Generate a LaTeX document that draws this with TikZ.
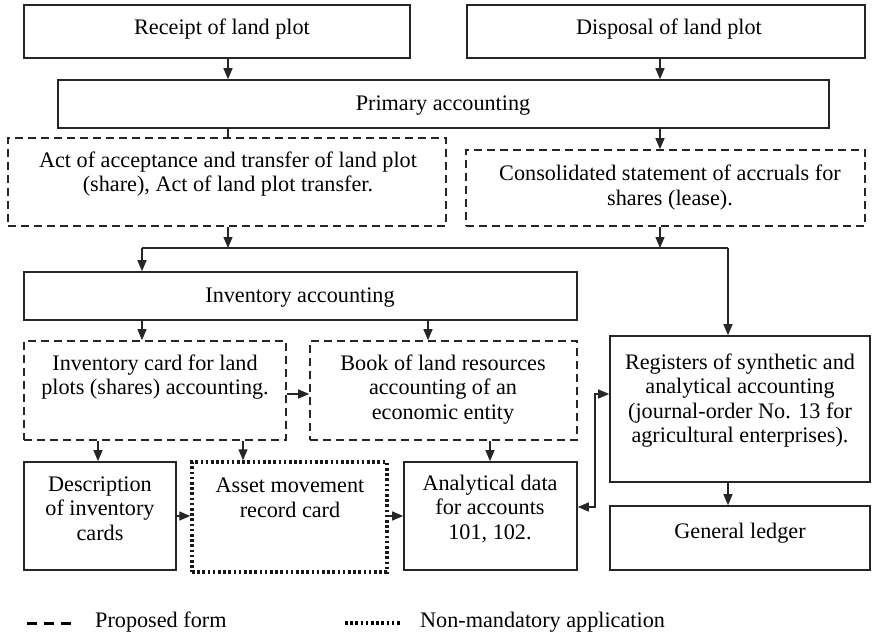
\documentclass[tikz,border=0pt]{standalone}
\usepackage{fontspec}
\setmainfont{Liberation Serif}
\usetikzlibrary{arrows.meta}
\begin{document}
\begin{tikzpicture}[x=1pt,y=-1pt,
  txt/.style={inner sep=0pt, align=center, font=\fontsize{22.2}{24.5}\selectfont},
  solidbox/.style={draw=black!85, line width=1.6pt, inner sep=0pt},
  dashbox/.style={draw=black!85, line width=1.6pt, inner sep=0pt, dash pattern=on 8pt off 5pt},
  dotbox/.style={draw=black!90, line width=3.4pt, inner sep=0pt, dash pattern=on 2.6pt off 2.6pt},
  conn/.style={draw=black!85, line width=1.3pt},
  arr/.style={conn, -{Triangle[length=11pt,width=9pt]}},
  darr/.style={conn, {Triangle[length=11pt,width=9pt]}-{Triangle[length=11pt,width=9pt]}}]
\useasboundingbox (0,0) rectangle (872,635);

% boxes
\node[solidbox, minimum width=386pt, minimum height=53pt] (rec)  at (217,31.5) {};
\node[solidbox, minimum width=398pt, minimum height=53pt] (dis)  at (666,31.5) {};
\node[solidbox, minimum width=771pt, minimum height=48pt] (prim) at (443.5,104) {};
\node[dashbox,  minimum width=438pt, minimum height=88pt] (act)  at (227,182) {};
\node[dashbox,  minimum width=399pt, minimum height=76pt] (cons) at (665.5,188) {};
\node[solidbox, minimum width=553pt, minimum height=48pt] (inv)  at (300.5,296) {};
\node[dashbox,  minimum width=262pt, minimum height=99pt] (card) at (155,390.5) {};
\node[dashbox,  minimum width=267pt, minimum height=99pt] (book) at (443.5,390.5) {};
\node[solidbox, minimum width=260pt, minimum height=146pt] (reg) at (740,409) {};
\node[solidbox, minimum width=260pt, minimum height=64pt] (gl)   at (740,538) {};
\node[solidbox, minimum width=152pt, minimum height=108pt] (desc) at (100,516) {};
\node[dotbox,   minimum width=195pt, minimum height=110pt] (asset) at (289.5,517) {};
\node[solidbox, minimum width=173pt, minimum height=108pt] (anal) at (490.5,516) {};

% texts
\node[txt] (trec) at (222,29) {Receipt of land plot};
\node[txt] (tdis) at (669,29) {Disposal of land plot};
\node[txt] (tprim) at (443,105.5) {Primary accounting};
\node[txt] (tact) at (228,174) {Act of acceptance and transfer of land plot\\(share), Act of land plot transfer.};
\node[txt] (tcons) at (670,187.5) {Consolidated statement of accruals for\\shares (lease).};
\node[txt] (tinv) at (300,297.5) {Inventory accounting};
\node[txt] (tcard) at (155,377) {Inventory card for land\\plots (shares) accounting.};
\node[txt] (tbook) at (443,389.5) {Book of land resources\\accounting of an\\economic entity};
\node[txt] (treg) at (740,400.5) {Registers of synthetic and\\analytical accounting\\(journal-order No. 13 for\\agricultural enterprises).};
\node[txt] (tgl) at (740,533) {General ledger};
\node[txt] (tdesc) at (100,508.5) {Description\\of inventory\\cards};
\node[txt] (tasset) at (290,498) {Asset movement\\record card};
\node[txt] (tanal) at (490,508.5) {Analytical data\\for accounts\\101, 102.};

% connectors
\draw[arr] (rec.south -| 228,0) -- (prim.north -| 228,0);
\draw[arr] (dis.south -| 660,0) -- (prim.north -| 660,0);
\draw[conn] (prim.south -| 228,0) -- (act.north -| 228,0);
\draw[arr] (prim.south -| 660,0) -- (cons.north -| 660,0);

\coordinate (jl) at (142,248);
\coordinate (ja) at (228,248);
\coordinate (jb) at (660,248);
\coordinate (jr) at (728,248);
\draw[arr] (act.south -| ja) -- (ja);
\draw[arr] (cons.south -| jb) -- (jb);
\draw[conn] (jl) -- (jr);
\draw[arr] (jl) -- (inv.north -| jl);
\draw[arr] (jr) -- (reg.north -| jr);

\draw[arr] (inv.south -| 142,0) -- (card.north -| 142,0);
\draw[arr] (inv.south -| 428,0) -- (book.north -| 428,0);
\draw[arr] (card.east |- 0,394) -- (book.west |- 0,394);
\draw[arr] (card.south -| 98,0) -- (desc.north -| 98,0);
\draw[arr] (card.south -| 243,0) -- (asset.north -| 243,0);
\draw[arr] (book.south -| 490,0) -- (anal.north -| 490,0);
\draw[arr] (desc.east |- 0,516) -- (asset.west |- 0,516);
\draw[arr] (asset.east |- 0,516) -- (anal.west |- 0,516);
\draw[arr] (reg.south -| 728,0) -- (gl.north -| 728,0);
\draw[darr] (anal.east |- 0,507) -- (595,507) -- (595,394) -- (reg.west |- 0,394);

% legend
\node[txt, anchor=west] (lgdash) at (95,622) {Proposed form};
\node[txt, anchor=west] (lgdot) at (420,622) {Non-mandatory application};
\draw[line width=3pt, dash pattern=on 10pt off 7pt] ([xshift=-68pt]lgdash.west |- 0,623) -- ([xshift=-18pt]lgdash.west |- 0,623);
\draw[line width=3.4pt, dash pattern=on 2.6pt off 2.6pt] ([xshift=-75pt]lgdot.west |- 0,623) -- ([xshift=-20pt]lgdot.west |- 0,623);
\end{tikzpicture}
\end{document}
